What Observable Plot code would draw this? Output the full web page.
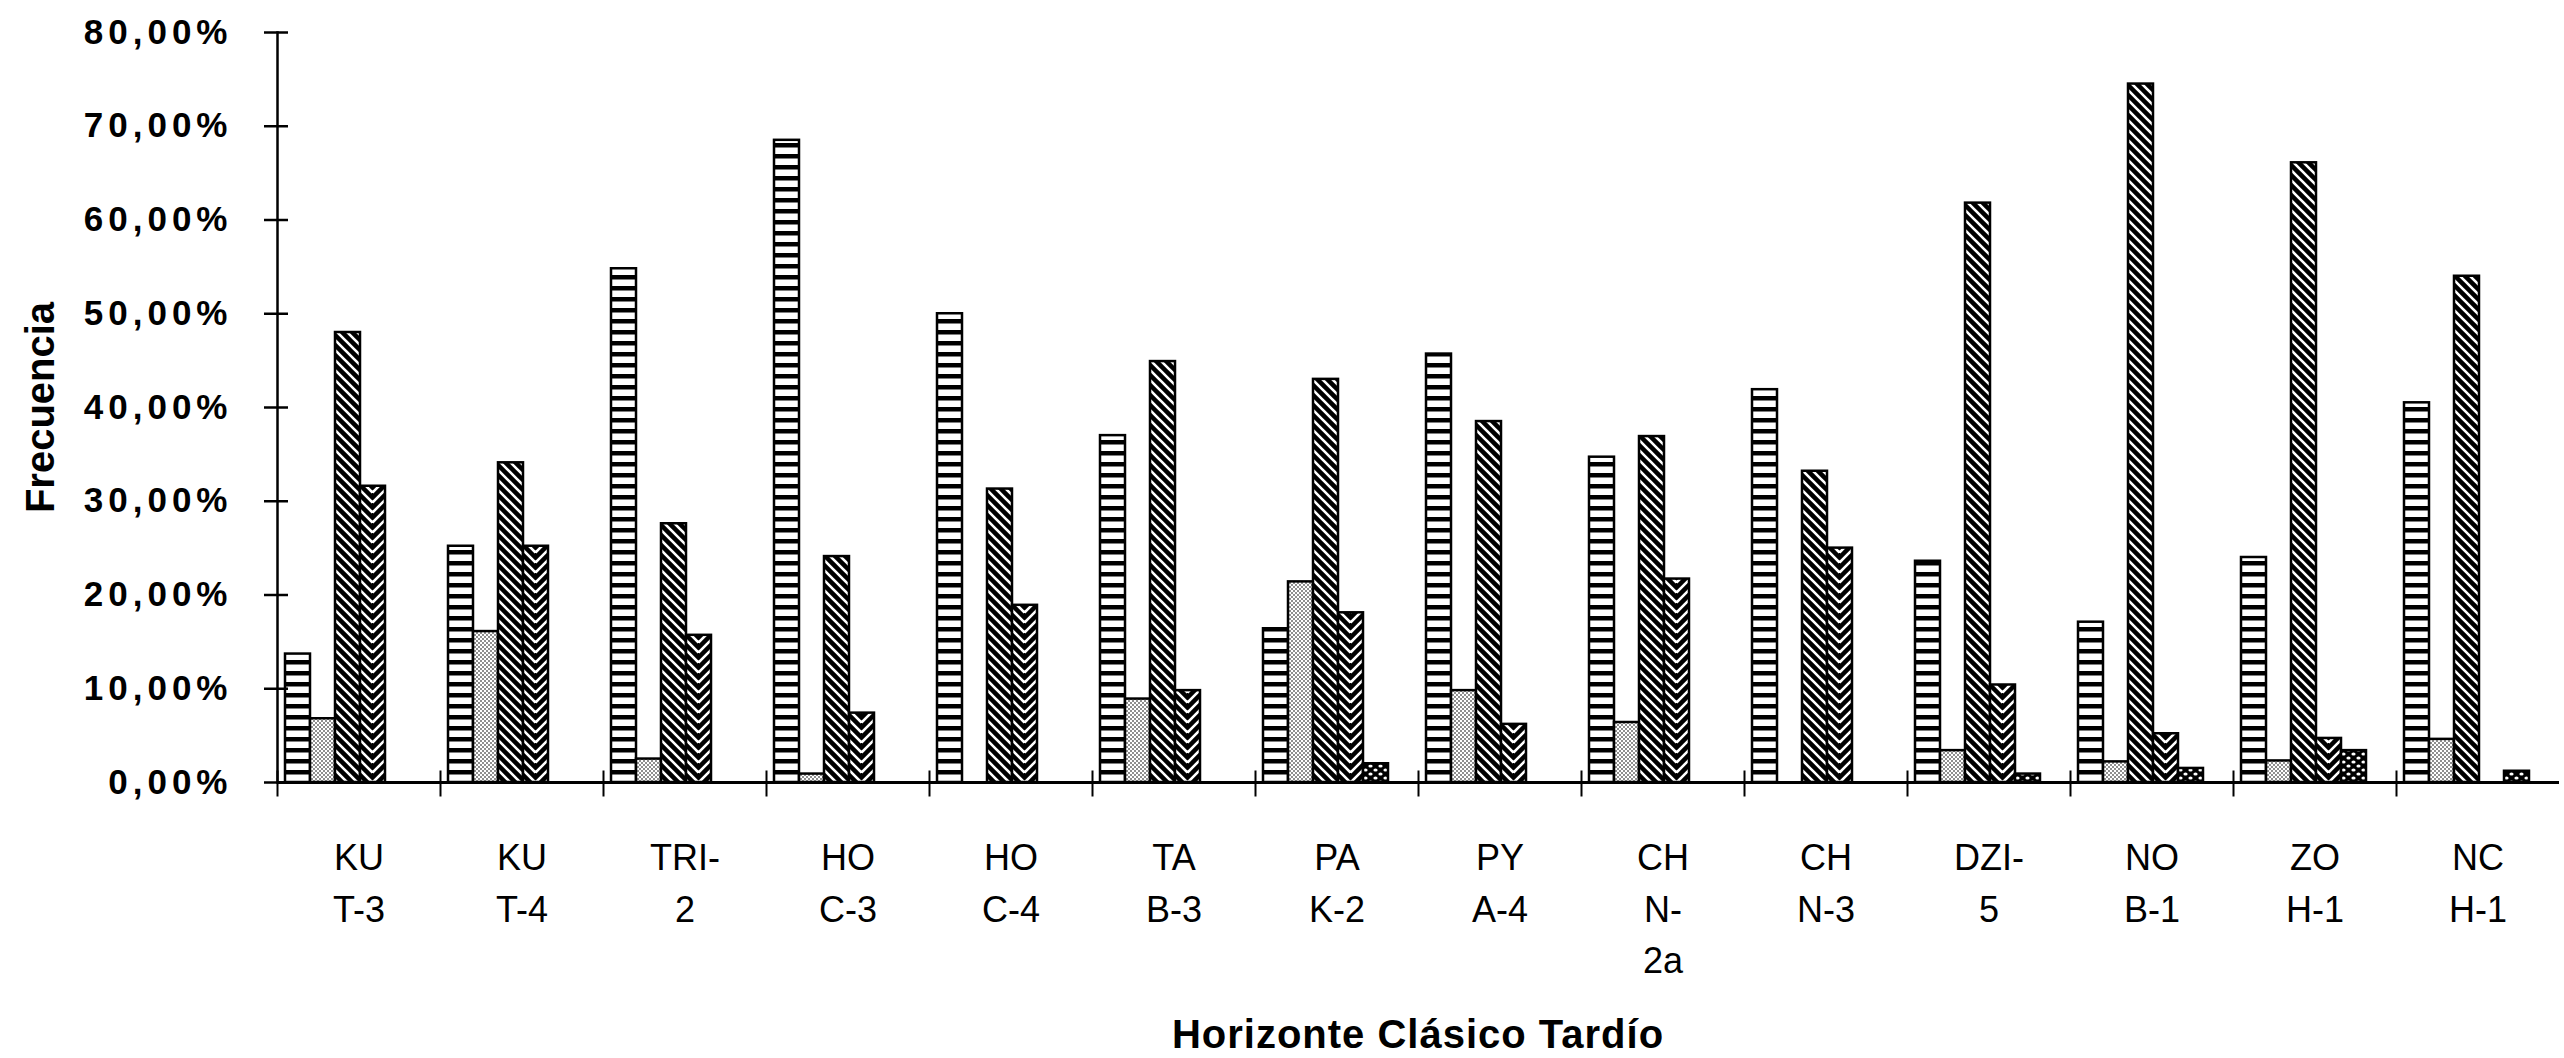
<!DOCTYPE html>
<html><head><meta charset="utf-8">
<script src="https://cdn.jsdelivr.net/npm/d3@7"></script>
<script src="https://cdn.jsdelivr.net/npm/@observablehq/plot@0.6"></script>
<style>
html,body{margin:0;padding:0;background:#fff;overflow:hidden}
#chart svg{display:block}
g[aria-label="y-axis tick label"] text{letter-spacing:5px}
#title{font-family:'Liberation Sans',Arial,sans-serif;font-weight:bold;font-size:40px;letter-spacing:1px;line-height:48px;margin-top:10px;margin-left:272px;width:2292px;text-align:center;color:#000}
</style></head><body>
<div id="chart"></div>
<div id="title">Horizonte Clásico Tardío</div>
<script>
// ---- data ----
const categories = ["KU\nT-3", "KU\nT-4", "TRI-\n2", "HO\nC-3", "HO\nC-4", "TA\nB-3", "PA\nK-2",
  "PY\nA-4", "CH\nN-\n2a", "CH\nN-3", "DZI-\n5", "NO\nB-1", "ZO\nH-1", "NC\nH-1"];
const seriesNames = ["Serie 1", "Serie 2", "Serie 3", "Serie 4", "Serie 5"];
const serie1 = [13.7, 25.2, 54.8, 68.5, 50.0, 37.0, 16.4, 45.7, 34.7, 41.9, 23.6, 17.1, 24.0, 40.5];
const serie2 = [6.8, 16.1, 2.5, 0.9, 0, 8.9, 21.4, 9.8, 6.4, 0, 3.4, 2.2, 2.3, 4.6];
const serie3 = [48.0, 34.1, 27.6, 24.1, 31.3, 44.9, 43.0, 38.5, 36.9, 33.2, 61.8, 74.5, 66.1, 54.0];
const serie4 = [31.6, 25.2, 15.7, 7.4, 18.9, 9.8, 18.1, 6.2, 21.7, 25.0, 10.4, 5.2, 4.7, 0];
const serie5 = [0, 0, 0, 0, 0, 0, 2.0, 0, 0, 0, 0.9, 1.5, 3.4, 1.2];
const yTicks = [0, 10, 20, 30, 40, 50, 60, 70, 80];
const yLabel = "Frecuencia";

const seriesValues = [serie1, serie2, serie3, serie4, serie5];
const patternIds = ["pat-stripes", "pat-dots", "pat-diag", "pat-chev", "pat-cross"];
const rows = categories.flatMap((c, i) =>
  seriesNames.map((s, j) => ({category: c, series: s, value: seriesValues[j][i]})));

const fmt = d => d.toFixed(2).replace(".", ",") + "%";
const plotTop = 32, plotBottom = 782, H = 1000;

const chart = Plot.plot({
  width: 2564, height: H,
  marginTop: plotTop, marginBottom: H - plotBottom, marginLeft: 272, marginRight: 0,
  style: {fontFamily: "'Liberation Sans', Arial, sans-serif", color: "black", background: "white", overflow: "visible"},
  fx: {domain: categories, padding: 0},
  x: {domain: seriesNames, paddingInner: 0, paddingOuter: 0.735, align: 0.215, axis: null},
  y: {domain: [0, 80]},
  color: {domain: seriesNames, range: patternIds.map(id => `url(#${id})`)},
  marks: [
    Plot.barY(rows, {fx: "category", x: "series", y: "value", fill: "series", stroke: "black", strokeWidth: 2.5}),
    Plot.ruleY([0], {stroke: "black", strokeWidth: 3}),
    Plot.frame({anchor: "left", fx: () => categories[0], stroke: "black", strokeWidth: 2.5}),
    Plot.frame({anchor: "left", insetTop: (plotBottom - plotTop) - 11, insetBottom: -13, stroke: "black", strokeWidth: 2}),
    Plot.axisY({ticks: yTicks, tickSize: 13, tickPadding: 32, tickFormat: fmt, fontSize: 35, fontWeight: "bold", strokeWidth: 2.5, label: null}),
    Plot.axisY({ticks: yTicks, tickSize: 11, dx: 11, tickFormat: () => "", strokeWidth: 2.5, label: null}),
    Plot.axisY({ticks: [], tickSize: 0, label: yLabel, labelAnchor: "center", labelOffset: 252, labelArrow: "none", fontSize: 40, fontWeight: "bold"}),
    Plot.axisFx({anchor: "bottom", tickSize: 0, tickPadding: 51, fontSize: 36, lineHeight: 1.43, label: null})
  ]
});

// ---- fill patterns (hatching of the original print) ----
const ns = "http://www.w3.org/2000/svg";
const chevRect = chart.querySelector('rect[fill="url(#pat-chev)"]');
const cx0 = chevRect ? +chevRect.getAttribute("x") : 0;
const cw = chevRect ? +chevRect.getAttribute("width") : 25;
const p = 10, h = cw / 2;
let chevPath = "";
for (let c = -Math.ceil((h + p) / p) * p; c <= 2 * p; c += p) {
  chevPath += `M0,${c}L${h},${c + h}M${h},${c + h}L${cw},${c}`;
}
const defs = document.createElementNS(ns, "defs");
defs.innerHTML = `
<pattern id="pat-stripes" patternUnits="userSpaceOnUse" width="10" height="11">
  <rect width="10" height="11" fill="white"/><rect width="10" height="4.5" fill="black"/>
</pattern>
<pattern id="pat-dots" patternUnits="userSpaceOnUse" width="4" height="4">
  <rect width="4" height="4" fill="white"/>
  <circle cx="1" cy="1" r="0.8" fill="black"/><circle cx="3" cy="3" r="0.8" fill="black"/>
</pattern>
<pattern id="pat-diag" patternUnits="userSpaceOnUse" width="10" height="10">
  <rect width="10" height="10" fill="black"/>
  <path d="M-5,-5L15,15M-5,5L5,15M5,-5L15,5" stroke="white" stroke-width="2.6"/>
</pattern>
<pattern id="pat-chev" patternUnits="userSpaceOnUse" x="${cx0}" y="0" width="${cw}" height="${p}">
  <rect width="${cw}" height="${p}" fill="black"/>
  <path d="${chevPath}" stroke="white" stroke-width="2.6"/>
</pattern>
<pattern id="pat-cross" patternUnits="userSpaceOnUse" width="10" height="8">
  <rect width="10" height="8" fill="black"/>
  <ellipse cx="2.5" cy="2" rx="2.1" ry="1.6" fill="white"/>
  <ellipse cx="7.5" cy="6" rx="2.1" ry="1.6" fill="white"/>
</pattern>`;
chart.insertBefore(defs, chart.firstChild);
document.getElementById("chart").appendChild(chart);
</script></body></html>
